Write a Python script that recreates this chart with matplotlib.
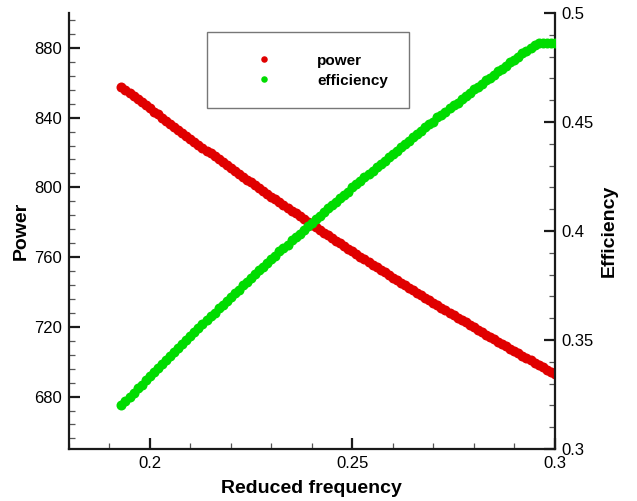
import matplotlib
matplotlib.use("Agg")
import matplotlib.pyplot as plt
from matplotlib.ticker import MultipleLocator, FormatStrFormatter
from matplotlib.patches import Rectangle

plt.rcParams['font.family'] = ['Liberation Sans', 'DejaVu Sans']

# Reduced frequency samples
freq = [0.193, 0.194, 0.195, 0.196, 0.197, 0.198, 0.199, 0.200, 0.201, 0.202,
        0.203, 0.204, 0.205, 0.206, 0.207, 0.208, 0.209, 0.210, 0.211, 0.212,
        0.213, 0.214, 0.215, 0.216, 0.217, 0.218, 0.219, 0.220, 0.221, 0.222,
        0.223, 0.224, 0.225, 0.226, 0.227, 0.228, 0.229, 0.230, 0.231, 0.232,
        0.233, 0.234, 0.235, 0.236, 0.237, 0.238, 0.239, 0.240, 0.241, 0.242,
        0.243, 0.244, 0.245, 0.246, 0.247, 0.248, 0.249, 0.250, 0.251, 0.252,
        0.253, 0.254, 0.255, 0.256, 0.257, 0.258, 0.259, 0.260, 0.261, 0.262,
        0.263, 0.264, 0.265, 0.266, 0.267, 0.268, 0.269, 0.270, 0.271, 0.272,
        0.273, 0.274, 0.275, 0.276, 0.277, 0.278, 0.279, 0.280, 0.281, 0.282,
        0.283, 0.284, 0.285, 0.286, 0.287, 0.288, 0.289, 0.290, 0.291, 0.292,
        0.293, 0.294, 0.295, 0.296, 0.297, 0.298, 0.299, 0.300]

# Power (left axis)
power = [857.7, 855.9, 854.1, 852.4, 850.6, 848.8, 847.0, 845.3, 843.5, 841.8,
         840.0, 838.3, 836.6, 834.8, 833.1, 831.4, 829.7, 827.9, 826.2, 824.5,
         822.8, 821.1, 819.5, 817.8, 816.1, 814.4, 812.7, 811.1, 809.4, 807.8,
         806.1, 804.5, 802.8, 801.2, 799.5, 797.9, 796.3, 794.7, 793.1, 791.4,
         789.8, 788.2, 786.6, 785.1, 783.5, 781.9, 780.3, 778.7, 777.2, 775.6,
         774.0, 772.5, 770.9, 769.4, 767.9, 766.3, 764.8, 763.3, 761.8, 760.2,
         758.7, 757.2, 755.7, 754.2, 752.7, 751.2, 749.8, 748.3, 746.8, 745.3,
         743.9, 742.4, 741.0, 739.5, 738.1, 736.6, 735.2, 733.7, 732.3, 730.9,
         729.5, 728.1, 726.7, 725.3, 723.9, 722.5, 721.1, 719.7, 718.3, 716.9,
         715.6, 714.2, 712.8, 711.5, 710.1, 708.8, 707.4, 706.1, 704.8, 703.4,
         702.1, 700.8, 699.5, 698.2, 696.8, 695.5, 694.3, 693.0]

# Efficiency (right axis)
efficiency = [0.3200, 0.3219, 0.3240, 0.3257, 0.3278, 0.3295, 0.3316, 0.3333, 0.3351, 0.3372,
              0.3389, 0.3406, 0.3428, 0.3445, 0.3461, 0.3483, 0.3500, 0.3516, 0.3538, 0.3554,
              0.3572, 0.3592, 0.3608, 0.3624, 0.3646, 0.3662, 0.3677, 0.3699, 0.3715, 0.3730,
              0.3752, 0.3767, 0.3782, 0.3804, 0.3819, 0.3834, 0.3855, 0.3870, 0.3885, 0.3906,
              0.3921, 0.3936, 0.3957, 0.3971, 0.3986, 0.4006, 0.4021, 0.4035, 0.4056, 0.4070,
              0.4085, 0.4105, 0.4119, 0.4133, 0.4153, 0.4167, 0.4181, 0.4201, 0.4215, 0.4228,
              0.4248, 0.4262, 0.4275, 0.4295, 0.4308, 0.4322, 0.4341, 0.4354, 0.4368, 0.4387,
              0.4400, 0.4413, 0.4432, 0.4445, 0.4458, 0.4477, 0.4489, 0.4502, 0.4521, 0.4533,
              0.4546, 0.4564, 0.4577, 0.4589, 0.4607, 0.4620, 0.4632, 0.4650, 0.4662, 0.4674,
              0.4692, 0.4704, 0.4716, 0.4733, 0.4745, 0.4757, 0.4774, 0.4786, 0.4797, 0.4815,
              0.4826, 0.4839, 0.4853, 0.4862, 0.4861, 0.4863, 0.4862, 0.4864]

RED = '#e00000'
GREEN = '#00dc00'
AXIS = '#1a1a1a'

fig = plt.figure(figsize=(6.37, 5.01), dpi=100)
ax = fig.add_axes([0.108, 0.104, 0.763, 0.870])
ax2 = ax.twinx()

ax.plot(freq, power, linestyle='none', marker='o', markersize=7.2,
        color=RED, markeredgewidth=0, label='power', zorder=3)
ax2.plot(freq, efficiency, linestyle='none', marker='o', markersize=7.2,
         color=GREEN, markeredgewidth=0, label='efficiency', zorder=3)

ax.set_xlim(0.18, 0.30)
ax.set_ylim(650, 900)
ax2.set_ylim(0.30, 0.50)

ax.xaxis.set_major_locator(MultipleLocator(0.05))
ax.xaxis.set_minor_locator(MultipleLocator(0.01))
ax.xaxis.set_major_formatter(FormatStrFormatter('%g'))
ax.yaxis.set_major_locator(MultipleLocator(40))
ax.yaxis.set_minor_locator(MultipleLocator(8))
ax2.yaxis.set_major_locator(MultipleLocator(0.05))
ax2.yaxis.set_minor_locator(MultipleLocator(0.01))
ax2.yaxis.set_major_formatter(FormatStrFormatter('%g'))

for a in (ax, ax2):
    a.spines['top'].set_visible(False)
    for s in a.spines.values():
        s.set_linewidth(1.6)
        s.set_color(AXIS)

ax.spines['right'].set_visible(False)
ax2.spines['left'].set_visible(False)
ax2.spines['bottom'].set_visible(False)

ax.tick_params(axis='both', which='major', direction='in', length=8, width=1.6,
               labelsize=12, pad=5, color=AXIS)
ax.tick_params(axis='both', which='minor', direction='in', length=4, width=0.9,
               color='#555555')
ax2.tick_params(axis='y', which='major', direction='in', length=8, width=1.6,
                labelsize=12, pad=5, color=AXIS)
ax2.tick_params(axis='y', which='minor', direction='in', length=4, width=0.9,
                color='#555555')

ax.set_xlabel('Reduced frequency', fontsize=14, fontweight='bold', labelpad=6.5)
ax.set_ylabel('Power', fontsize=14, fontweight='bold', labelpad=3)
ax2.set_ylabel('Efficiency', fontsize=14, fontweight='bold', labelpad=5)

# Legend with a separate frame
frame = Rectangle((0.284, 0.782), 0.416, 0.174, transform=ax.transAxes,
                  facecolor='white', edgecolor='#777777', linewidth=1.0, zorder=5)
ax2.add_patch(frame)
handles = ax.get_lines() + ax2.get_lines()
leg = ax2.legend(handles, [h.get_label() for h in handles],
                 loc='upper left', bbox_to_anchor=(0.385, 0.907),
                 frameon=False, borderpad=0, borderaxespad=0,
                 handlelength=1.0, handletextpad=3.0, labelspacing=0.4,
                 markerscale=0.65, prop={'size': 11, 'weight': 'bold'})
leg.set_zorder(6)

fig.savefig('out.png', dpi=100)
